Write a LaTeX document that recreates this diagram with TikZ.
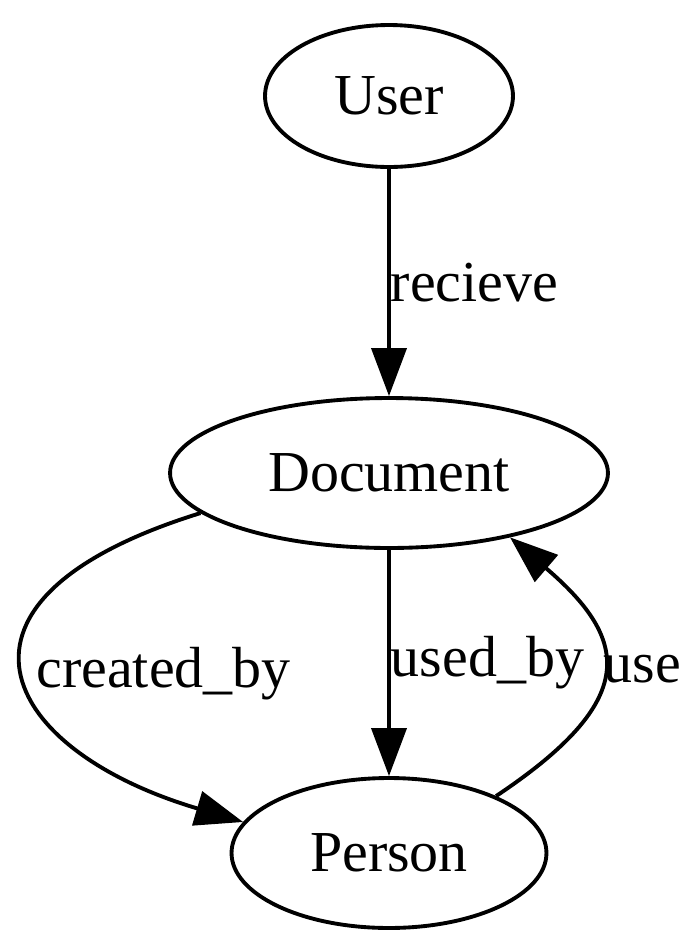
\documentclass[tikz,border=0pt]{standalone}
\usepackage{fontspec}
\setmainfont{Liberation Serif}
\usetikzlibrary{shapes.geometric,arrows.meta}

\tikzstyle{entity}=[
    ellipse,
    line width=2.2pt,
    draw=black,
    inner sep=0pt,
    minimum height=3.0cm
]
\tikzstyle{rel}=[
    inner sep=0pt,
    font=\fontsize{33}{40}\selectfont
]

\begin{document}
\begin{tikzpicture}[x=0.02cm,y=-0.02cm,>={Triangle[length=0.96cm,width=0.7cm]},
    font=\fontsize{33}{40}\selectfont]
	\useasboundingbox (0,0) rectangle (700,948);
	% ENTITIES
	\node (user) [entity, minimum width=4.96cm, minimum height=2.84cm] at (389,96) {User};
	\node (document) [entity, minimum width=8.76cm] at (389,473) {Document};
	\node (person) [entity, minimum width=6.3cm] at (389,853) {Person};

	\path[->]
	% Straight connections
	(user) edge[line width=2.2pt] node[rel, right] {recieve} (document)
	(document) edge[line width=2.2pt] node[rel, right] {used\_by} (person)
	;

	% Curved connections
	\draw[->, line width=2.2pt] (document.192) .. controls (-80,600) and (0,750) ..
		node[rel, right, xshift=0.18cm] {created\_by} (person.168);
	\draw[->, line width=2.2pt] (person.28) .. controls (640,700) and (630,640) ..
		node[rel, right] {use} (document.-28);
\end{tikzpicture}
\end{document}
